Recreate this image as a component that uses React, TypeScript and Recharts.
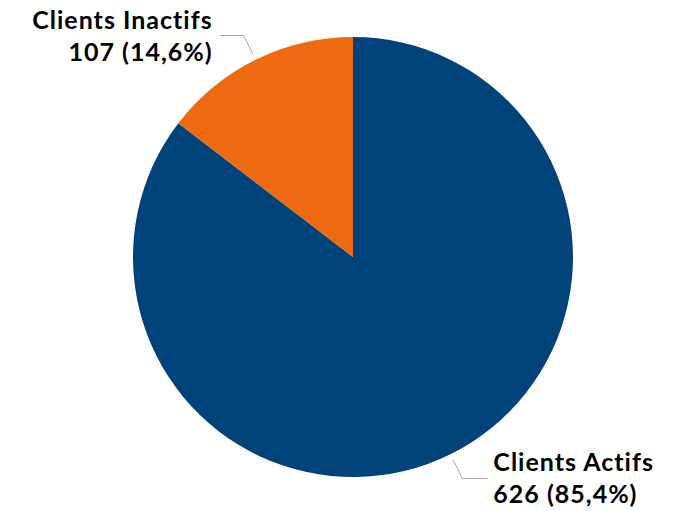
import React from 'react';
import { PieChart, Pie, Cell } from 'recharts';

const names = ['Clients Actifs', 'Clients Inactifs'];
const counts = [626, 107];
const colors = ['#00437A', '#EE6A11'];

const data = names.map((name, i) => ({ name, value: counts[i] }));
const total = counts.reduce((a, b) => a + b, 0);
const RADIAN = Math.PI / 180;

const renderLabel = (props: any) => {
  const { cx, cy, midAngle, outerRadius, payload, value } = props;
  const cos = Math.cos(-midAngle * RADIAN);
  const sin = Math.sin(-midAngle * RADIAN);
  const sx = cx + (outerRadius + 6) * cos;
  const sy = cy + (outerRadius + 6) * sin;
  const mx = cx + (outerRadius + 27) * cos;
  const my = cy + (outerRadius + 27) * sin;
  const right = cos >= 0;
  const ex = mx + (right ? 25 : -23);
  const tx = ex + (right ? 6 : -8);
  const pct = ((value / total) * 100).toFixed(1).replace('.', ',');
  return (
    <g>
      <polyline points={`${sx},${sy} ${mx},${my} ${ex},${my}`} fill="none" stroke="#A6A6A6" strokeWidth={1} />
      <text
        x={tx}
        y={my}
        textAnchor={right ? 'start' : 'end'}
        fill="#000"
        fontFamily="Lato, sans-serif"
        fontWeight={700}
        fontSize={25}
        style={{ letterSpacing: 1, fontVariantLigatures: 'none' }}
      >
        <tspan x={tx} dy={-7}>{payload.name}</tspan>
        <tspan x={tx} dy={32}>{`${value} (${pct}%)`}</tspan>
      </text>
    </g>
  );
};

const App: React.FC = () => {
  return (
    <div style={{ position: 'fixed', left: 0, top: 0, width: 692, height: 511, background: '#fff' }}>
      <PieChart width={692} height={511}>
        <Pie
          data={data}
          dataKey="value"
          nameKey="name"
          cx={348}
          cy={252}
          outerRadius={220}
          startAngle={90}
          endAngle={-270}
          stroke="none"
          label={renderLabel}
          labelLine={false}
          isAnimationActive={false}
        >
          {data.map((entry, index) => (
            <Cell key={`cell-${index}`} fill={colors[index]} />
          ))}
        </Pie>
      </PieChart>
    </div>
  );
};

export default App;
